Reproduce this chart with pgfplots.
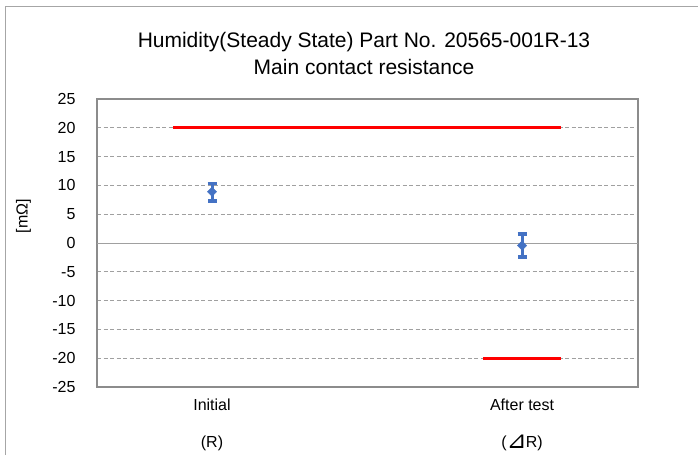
\documentclass[border=0pt]{standalone}
\usepackage{fontspec}
\setmainfont{Liberation Sans}
\newfontfamily\dejavu{DejaVu Sans}
\usepackage{pgfplots}
\pgfplotsset{compat=1.18}
\definecolor{frameGrey}{HTML}{A6A6A6}
\definecolor{axisGrey}{HTML}{8C8C8C}
\definecolor{gridGrey}{HTML}{A0A0A0}
\definecolor{xlBlue}{HTML}{4472C4}

\begin{document}
\begin{tikzpicture}
\path[use as bounding box] (0pt,0pt) rectangle (698pt,455pt);
% outer chart frame (left and top edges visible)
\draw[frameGrey, line width=1pt] (5pt,0pt) -- (5pt,448pt) -- (698pt,448pt);

\begin{axis}[
  at={(97pt,68pt)}, anchor=south west,
  scale only axis,
  width=541pt, height=288pt,
  xmin=0.629, xmax=2.374,
  ymin=-25, ymax=25,
  ytick={-25,-20,...,25},
  xtick={1,2},
  xticklabels={Initial\\[18.5pt](R), After test\\[18.5pt]({\dejavu\fontsize{24}{16}\selectfont\raisebox{-0.5pt}{⊿}}\kern-1pt R)},
  major tick length=0pt,
  axis line style={draw=axisGrey, line width=1.3pt},
  ymajorgrids,
  grid style={draw=gridGrey, dashed, dash pattern=on 4pt off 2.5pt, line width=0.8pt},
  /pgf/number format/assume math mode=true,
  tick label style={font=\fontsize{16}{19.2}\selectfont},
  yticklabel style={xshift=-18pt},
  xticklabel style={align=center, yshift=-8pt},
  ylabel={[mΩ]},
  ylabel style={font=\fontsize{16}{19.2}\selectfont, at={(axis description cs:-0.136,0.594)}, anchor=center, rotate=0},
  clip=false,
]
% zero line
\addplot[draw=gridGrey, line width=1pt, forget plot] coordinates {(0.629,0) (2.374,0)};
% limits
\addplot[red, line width=3.3pt] coordinates {(0.875,20) (2.125,20)};
\addplot[red, line width=3.3pt] coordinates {(1.875,-20) (2.125,-20)};
% measured values with min/max
\addplot[only marks, mark=square*, mark size=3.3pt, mark options={rotate=45}, color=xlBlue,
  error bars/.cd, y dir=both, y explicit,
  error bar style={line width=3pt, color=xlBlue},
  error mark options={rotate=90, mark size=4.5pt, line width=3.5pt, color=xlBlue}]
  coordinates {
    (1,8.9) += (0,1.4) -= (0,1.6)
    (2,-0.45) += (0,2.0) -= (0,1.95)
  };
\end{axis}

\node[anchor=base, font=\fontsize{21}{25}\selectfont] at (364pt,407pt) {Humidity(Steady State) Part No. 20565-001R-13};
\node[anchor=base, font=\fontsize{21}{25}\selectfont] at (364pt,380pt) {Main contact resistance};
\end{tikzpicture}
\end{document}
